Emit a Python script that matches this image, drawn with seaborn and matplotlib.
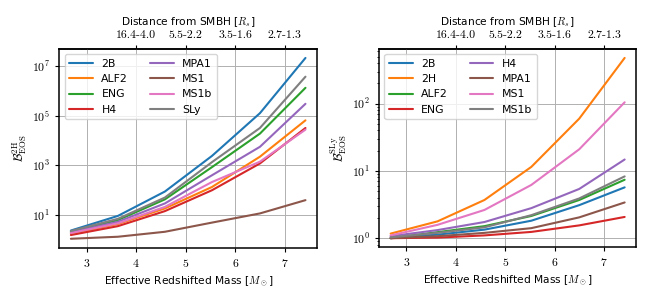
"""Bayes factors between neutron-star EOS models vs effective redshifted mass."""

import matplotlib.pyplot as plt
import matplotlib.ticker as mticker
import pandas as pd
import seaborn as sns

# effective redshifted mass grid [M_sun]
mass = [2.68, 3.63, 4.58, 5.53, 6.50, 7.42]

# top axis: distance range from the SMBH [R_s]
dist_ticks = [4, 5, 6, 7]
dist_labels = ["16.4-4.0", "5.5-2.2", "3.5-1.6", "2.7-1.3"]

# left panel: Bayes factor relative to 2H
eos_left = ["2B", "ALF2", "ENG", "H4", "MPA1", "MS1", "MS1b", "SLy"]
b_2b = [2.4, 9.3, 89, 2400, 1.26e5, 2.1e7]
b_alf2 = [1.78, 4.4, 18.6, 135, 2240, 6.5e4]
b_eng = [2.14, 6.3, 43, 850, 1.9e4, 1.32e6]
b_h4 = [1.58, 3.6, 14.5, 100, 1200, 3.2e4]
b_mpa1 = [2.04, 5.4, 29.5, 400, 5600, 3.0e5]
b_ms1 = [1.12, 1.35, 2.14, 5.0, 11.7, 40]
b_ms1b = [1.9, 4.7, 21.4, 214, 1410, 2.75e4]
b_sly = [2.3, 7.1, 51, 1350, 3.2e4, 3.7e6]
left_vals = [b_2b, b_alf2, b_eng, b_h4, b_mpa1, b_ms1, b_ms1b, b_sly]
left_yticks = [1e1, 1e3, 1e5, 1e7]

# right panel: Bayes factor relative to SLy
eos_right = ["2B", "2H", "ALF2", "ENG", "H4", "MPA1", "MS1", "MS1b"]
s_2b = [1.0, 1.13, 1.34, 1.82, 3.1, 5.7]
s_2h = [1.17, 1.78, 3.7, 11.5, 60, 480]
s_alf2 = [1.0, 1.23, 1.51, 2.14, 3.7, 7.4]
s_eng = [1.0, 1.02, 1.1, 1.24, 1.55, 2.07]
s_h4 = [1.07, 1.32, 1.74, 2.8, 5.4, 14.8]
s_mpa1 = [1.0, 1.07, 1.2, 1.41, 2.04, 3.4]
s_ms1 = [1.1, 1.58, 2.63, 6.2, 21, 105]
s_ms1b = [1.03, 1.2, 1.45, 2.2, 3.9, 8.3]
right_vals = [s_2b, s_2h, s_alf2, s_eng, s_h4, s_mpa1, s_ms1, s_ms1b]


def to_long(names, values):
    rows = []
    for name, vals in zip(names, values):
        for m, v in zip(mass, vals):
            rows.append({"EOS": name, "mass": m, "B": v})
    return pd.DataFrame(rows)


sns.set_style("ticks", {"axes.grid": True, "grid.color": "#b0b0b0",
                        "axes.edgecolor": "black", "xtick.color": "black",
                        "ytick.color": "black", "text.color": "black",
                        "axes.labelcolor": "black"})
plt.rcParams.update({
    "font.family": ["DejaVu Sans"],
    "font.size": 7.5,
    "mathtext.fontset": "cm",
    "axes.formatter.use_mathtext": True,
    "axes.linewidth": 1.1,
    "grid.linewidth": 0.7,
    "xtick.major.size": 3, "ytick.major.size": 3,
    "xtick.minor.size": 1.8, "ytick.minor.size": 1.8,
    "xtick.major.width": 0.8, "ytick.major.width": 0.8,
})

fig = plt.figure(figsize=(6.5, 3.0), dpi=100)
ax_l = fig.add_axes([0.091, 0.174, 0.397, 0.663])
ax_r = fig.add_axes([0.583, 0.176, 0.396, 0.661])

panels = [
    (ax_l, eos_left, left_vals, r"$\mathcal{B}^{\rm 2H}_{\rm EOS}$"),
    (ax_r, eos_right, right_vals, r"$\mathcal{B}^{\rm SLy}_{\rm EOS}$"),
]

for ax, names, vals, ylab in panels:
    df = to_long(names, vals)
    sns.lineplot(data=df, x="mass", y="B", hue="EOS", palette="tab10",
                 linewidth=1.5, ax=ax)
    ax.set_yscale("log")
    ax.set_xlabel(r"Effective Redshifted Mass [$M_\odot$]", fontsize=7.7)
    ax.set_ylabel(ylab, fontsize=9, labelpad=2)
    ax.tick_params(labelfontfamily="cmr10", labelsize=8.5)
    ax.grid(True, which="major")
    ax.set_axisbelow(True)

    handles, labels = ax.get_legend_handles_labels()
    ax.legend(handles, labels, loc="upper left", ncol=2, fontsize=7.8,
              handlelength=2.2, framealpha=0.8)

    sec = ax.secondary_xaxis("top")
    sec.set_xticks(dist_ticks, labels=dist_labels)
    sec.tick_params(labelfontfamily="cmr10", labelsize=8.5)
    sec.set_xlabel(r"Distance from SMBH [$R_s$]", fontsize=7.7)

ax_l.set_yticks(left_yticks)
ax_l.yaxis.set_minor_locator(mticker.NullLocator())

fig.savefig("out.png", dpi=100)
plt.close(fig)
